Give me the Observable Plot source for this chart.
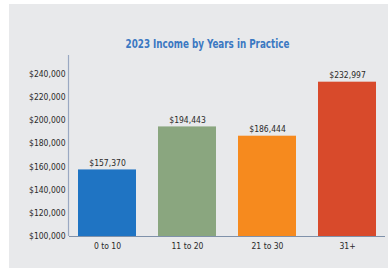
<!DOCTYPE html>
<html>
<head>
<meta charset="utf-8">
<script src="https://cdn.jsdelivr.net/npm/d3@7"></script>
<script src="https://cdn.jsdelivr.net/npm/@observablehq/plot@0.6"></script>
<style>
  html, body { margin: 0; padding: 0; background: #ffffff; }
  #page { position: relative; width: 388px; height: 268px; overflow: hidden; }
  #bg { position: absolute; left: 9px; top: 4px; right: 0; bottom: 0; background: #e8e9eb; }
  #title { position: absolute; left: 30px; width: 355px; top: 36px; text-align: center;
    font-family: "DejaVu Sans", sans-serif; font-stretch: condensed;
    font-weight: bold; font-size: 13px; color: #3b78c2;
    transform: scaleX(0.75); transform-origin: 177.5px 0; }
  #chart { position: absolute; left: 0; top: 50px; }
  #chart svg text { font-stretch: condensed; }
</style>
</head>
<body>
<div id="page">
  <div id="bg"></div>
  <div id="title">2023 Income by Years in Practice</div>
  <div id="chart"></div>
</div>
<script>
const categories = ["0 to 10", "11 to 20", "21 to 30", "31+"];
const incomes = [157370, 194443, 186444, 232997];
const valueLabels = ["$157,370", "$194,443", "$186,444", "$232,997"];
const barColors = ["#1f74c3", "#8aa67f", "#f68a1e", "#d84a2b"];
const yTicks = [100000, 120000, 140000, 160000, 180000, 200000, 220000, 240000];

const data = categories.map((c, i) => ({cat: c, value: incomes[i], label: valueLabels[i], color: barColors[i]}));
const fontFam = '"DejaVu Sans", sans-serif';

const chart = Plot.plot({
  width: 388,
  height: 218,
  marginLeft: 69,
  marginRight: 3,
  marginTop: 5,
  marginBottom: 32,
  style: {background: "transparent", fontFamily: fontFam, fontSize: "8.5px", color: "#2a2a2a"},
  x: {domain: categories, paddingInner: 0.275, paddingOuter: 0.1125, label: null, tickSize: 0, tickPadding: 6},
  y: {domain: [100000, 256000], ticks: yTicks, tickFormat: d => "$" + d3.format(",")(d), label: null, tickSize: 0, tickPadding: 4},
  marks: [
    Plot.barY(data, {x: "cat", y1: 100000, y2: "value", fill: "color"}),
    Plot.text(data, {x: "cat", y: "value", text: "label", dy: -7, fill: "#2a2a2a", fontSize: 8.5}),
    Plot.ruleY([100000], {stroke: "#7f91aa", strokeWidth: 1.2})
  ]
});
document.getElementById("chart").appendChild(chart);

// vertical axis line spanning the y scale range
const ys = chart.scale("y");
d3.select(chart).append("line")
  .attr("x1", 68.5).attr("x2", 68.5)
  .attr("y1", ys.range[1]).attr("y2", ys.range[0])
  .attr("stroke", "#9aa8c2").attr("stroke-width", 1.2);
</script>
</body>
</html>
